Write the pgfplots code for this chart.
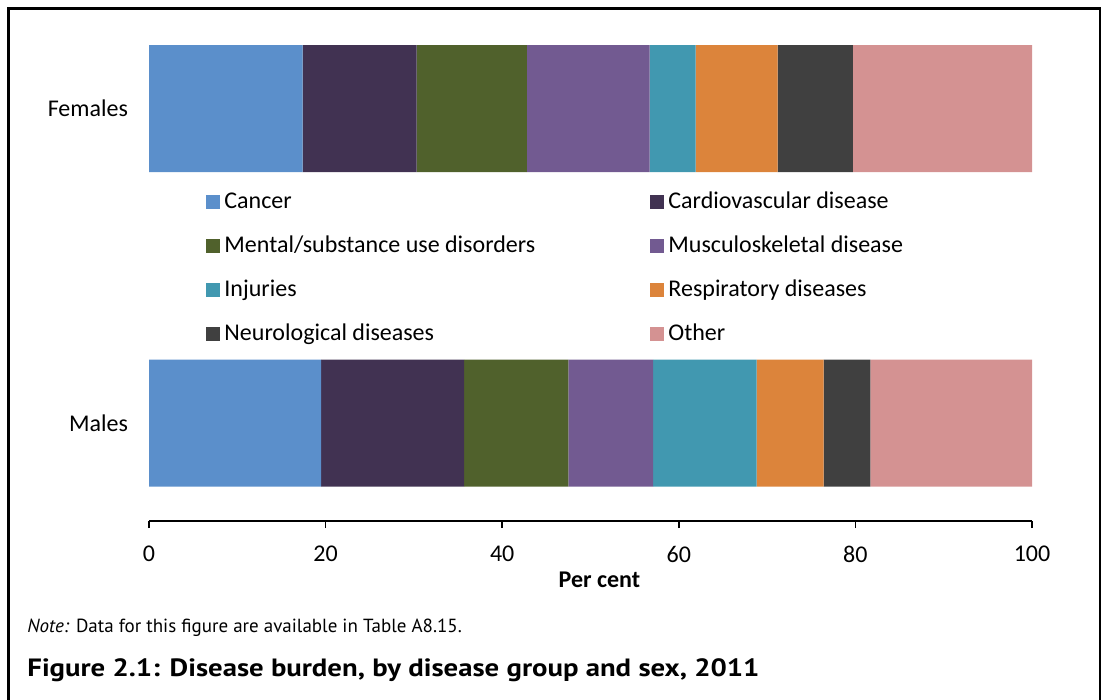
\documentclass[border=0pt]{standalone}
\usepackage{pgfplots}
\pgfplotsset{compat=1.18}
\usepackage{fontspec}
\setmainfont{Carlito}
\newfontfamily\notefont{PT Sans}
\newfontfamily\titlefont{PT Sans}[FakeStretch=1.15]

\definecolor{cCancer}{RGB}{91,143,203}
\definecolor{cCvd}{RGB}{65,50,82}
\definecolor{cMental}{RGB}{80,97,44}
\definecolor{cMusc}{RGB}{114,90,145}
\definecolor{cInj}{RGB}{65,152,176}
\definecolor{cResp}{RGB}{220,132,59}
\definecolor{cNeuro}{RGB}{64,64,64}
\definecolor{cOther}{RGB}{212,146,146}

\begin{document}
\begin{tikzpicture}
\useasboundingbox (0,0) rectangle (551.5pt,-350pt);
\draw[line width=1.3pt] (4.3pt,-352pt) -- (4.3pt,-4.3pt) -- (549.9pt,-4.3pt) -- (549.9pt,-352pt);

\begin{axis}[
    at={(74.5pt,-260.5pt)}, anchor=south west,
    scale only axis,
    width=441.5pt, height=253.4pt,
    xmin=0, xmax=100,
    ymin=-0.3116, ymax=1.3,
    xbar stacked,
    bar width=0.4038,
    axis x line*=bottom,
    axis y line*=left,
    y axis line style={draw=none},
    ytick={0,1}, yticklabels={Males,Females},
    ytick style={draw=none},
    xtick={0,20,...,100},
    xtick align=outside,
    major tick length=3.5pt,
    x axis line style={line width=0.8pt},
    xtick style={line width=0.8pt, black},
    tick label style={font=\fontsize{12}{14}\selectfont},
    xticklabel style={yshift=-5.5pt},
    yticklabel style={xshift=-7pt},
    /pgf/number format/assume math mode=true,
    xlabel={\textbf{Per cent}},
    xlabel style={font=\fontsize{12}{14}\selectfont, yshift=2pt, xshift=4.5pt},
    legend columns=2,
    legend cell align=left,
    legend style={draw=none, fill=none, at={(axis cs:6.46,0.4936)}, anchor=west,
        inner sep=0pt, row sep=0pt,
        font=\fontsize{12}{14}\selectfont,
        nodes={minimum height=22pt, inner ysep=0pt}},
    legend image code/.code={\path[#1] (0pt,-3.5pt) rectangle (7pt,3.5pt);},
]
\addplot[fill=cCancer, draw=none] coordinates {(19.5,0) (17.4,1)};
\addplot[fill=cCvd, draw=none] coordinates {(16.2,0) (12.9,1)};
\addplot[fill=cMental, draw=none] coordinates {(11.8,0) (12.5,1)};
\addplot[fill=cMusc, draw=none] coordinates {(9.6,0) (13.9,1)};
\addplot[fill=cInj, draw=none] coordinates {(11.7,0) (5.2,1)};
\addplot[fill=cResp, draw=none] coordinates {(7.6,0) (9.3,1)};
\addplot[fill=cNeuro, draw=none] coordinates {(5.3,0) (8.5,1)};
\addplot[fill=cOther, draw=none] coordinates {(18.3,0) (20.3,1)};
\legend{\makebox[211pt][l]{Cancer}, Cardiovascular disease,
        \makebox[211pt][l]{Mental/substance use disorders}, Musculoskeletal disease,
        \makebox[211pt][l]{Injuries}, Respiratory diseases,
        \makebox[211pt][l]{Neurological diseases}, Other}
\end{axis}

\node[anchor=west, inner sep=0pt, font=\notefont\fontsize{9.5}{11}\selectfont]
  at (13.5pt,-314pt) {\textit{Note:} Data for this figure are available in Table A8.15.};
\node[anchor=west, inner sep=0pt, font=\titlefont\bfseries\fontsize{12.5}{15}\selectfont]
  at (13.5pt,-335pt) {Figure 2.1: Disease burden, by disease group and sex, 2011};
\end{tikzpicture}
\end{document}
